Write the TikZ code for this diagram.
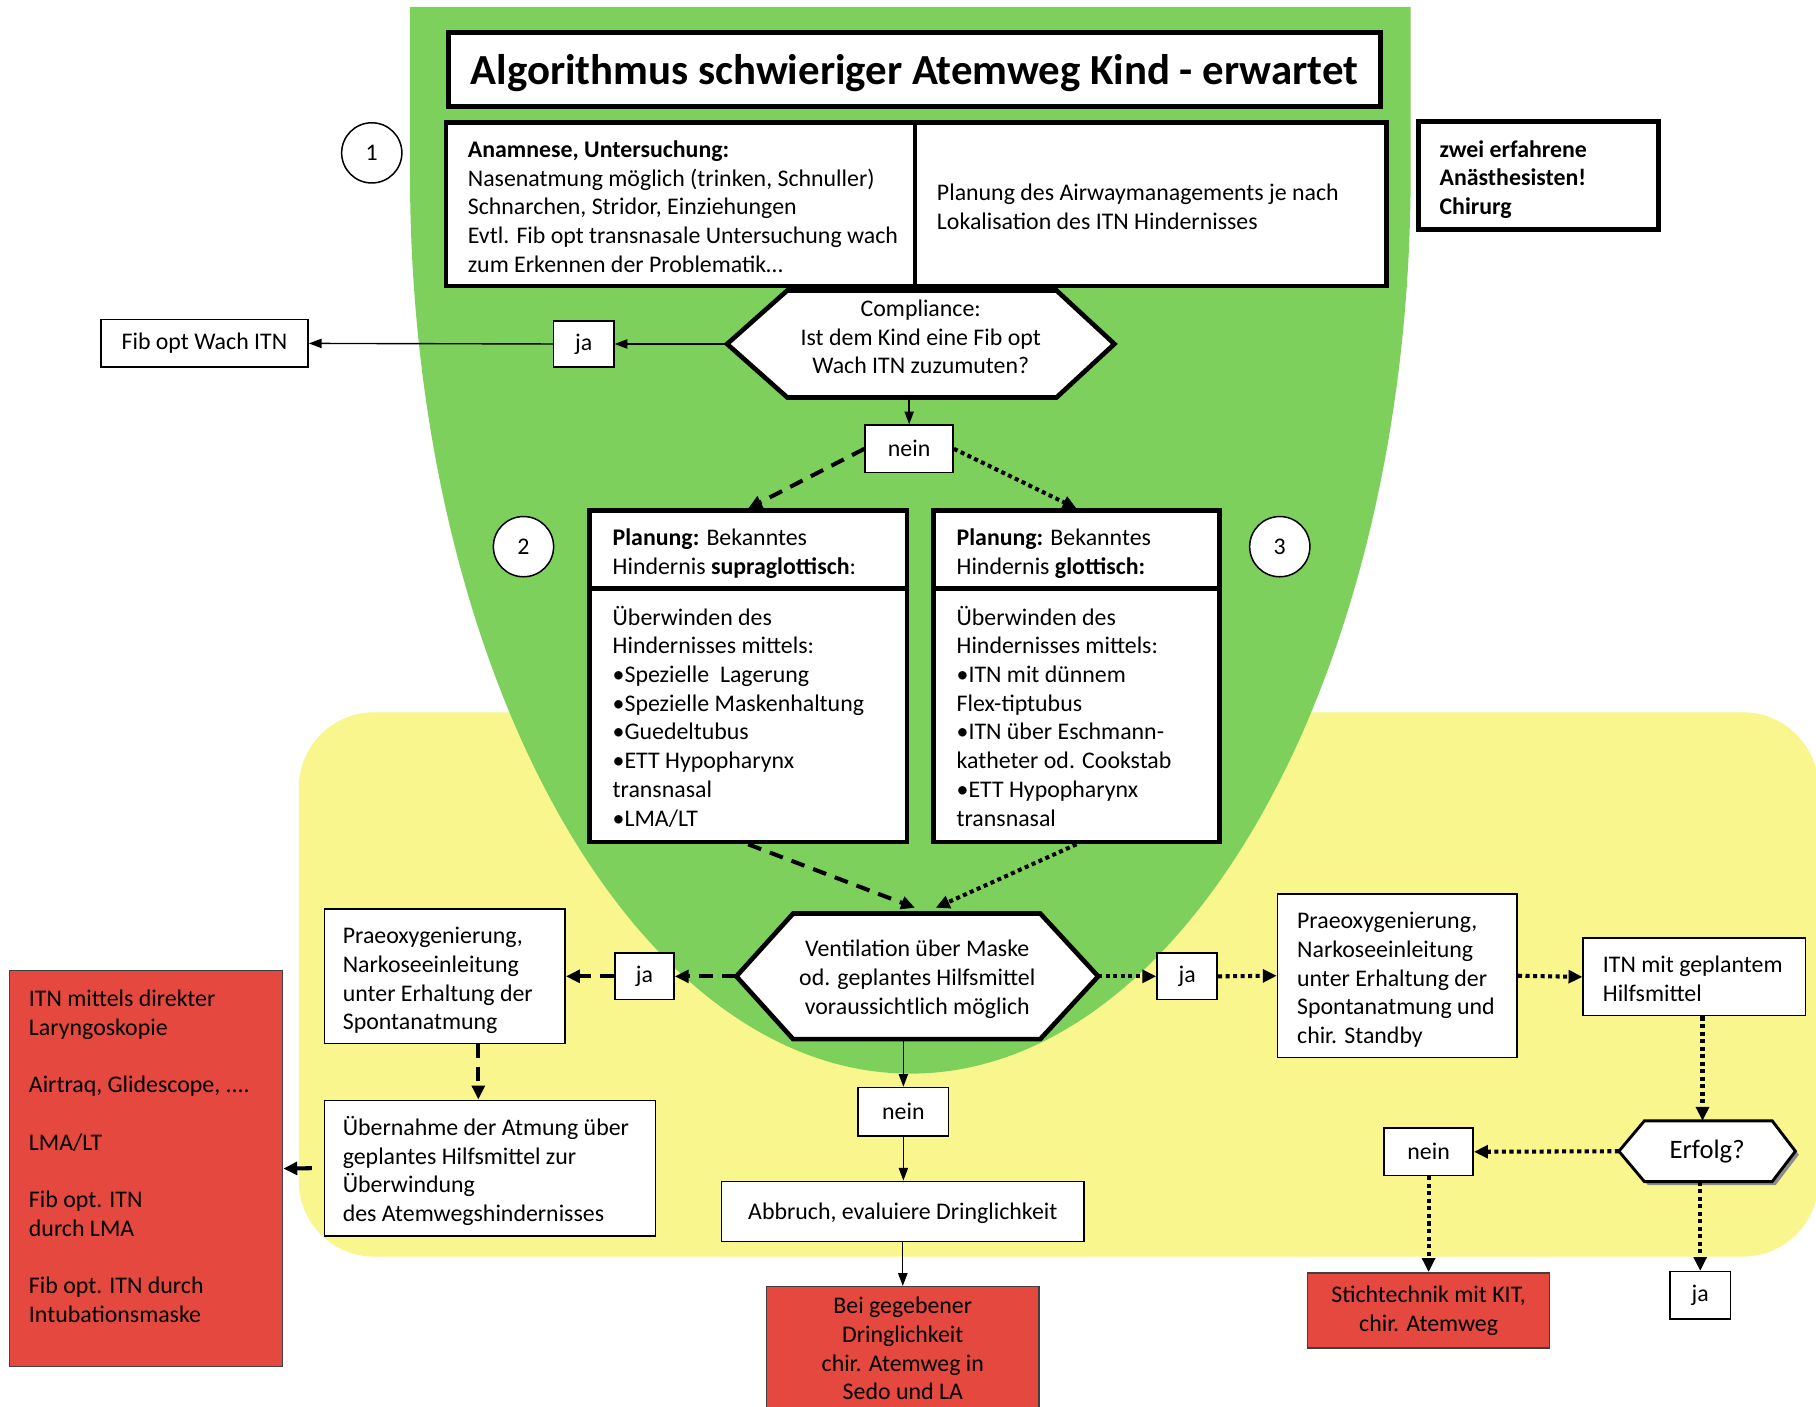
\documentclass[tikz,border=0pt]{standalone}
\usepackage{fontspec}
\setmainfont{Carlito}
\usetikzlibrary{arrows.meta,calc}
\definecolor{grn}{RGB}{126,208,92}
\definecolor{ylw}{RGB}{248,246,140}
\definecolor{rd}{RGB}{228,72,62}
\newcommand\bodyfont{\fontsize{20.6}{24.8}\selectfont}
\newcommand\lbox[3]{\makebox[#1pt][l]{\hspace*{#2pt}\raisebox{-4pt}[\height][\depth]{\begin{tabular}{@{}l@{}}#3\end{tabular}}}}
\newcommand\cbox[2]{\raisebox{#1pt}[\height][\depth]{\begin{tabular}{@{}c@{}}#2\end{tabular}}}
\pgfdeclarelayer{bg}
\pgfdeclarelayer{hex}
\pgfsetlayers{bg,hex,main}
\begin{document}
\begin{tikzpicture}[x=1pt,y=-1pt,
  thinbox/.style={draw, line width=1.3pt, fill=white, inner sep=0pt, font=\bodyfont},
  thickbox/.style={draw, line width=4pt, fill=white, inner sep=0pt, font=\bodyfont},
  redbox/.style={draw=black!75, line width=1.3pt, fill=rd, inner sep=0pt, font=\bodyfont},
  hexnode/.style={inner sep=0pt, font=\bodyfont, align=center},
  numc/.style={circle, draw, line width=1.3pt, fill=white, minimum size=52pt, inner sep=0pt, font=\bodyfont},
  conn/.style={line width=1.2pt, -{Triangle[length=11pt,width=8pt]}},
  dashconn/.style={line width=3.5pt, dash pattern=on 12pt off 8pt, -{Triangle[length=12pt,width=11pt]}},
  dotconn/.style={line width=3.5pt, dash pattern=on 3.5pt off 3pt, -{Triangle[length=12pt,width=11pt]}},
  hexline/.style={line width=4pt, fill=white, line join=miter}
]
\useasboundingbox (0,0) rectangle (1568,1214);

\begin{pgfonlayer}{bg}
\fill[ylw, rounded corners=65pt] (258,615) rectangle (1570,1085);
\fill[grn] (354,6) -- (354,150) arc[start angle=180, end angle=0, x radius=432, y radius=777] -- (1218,6) -- cycle;
\end{pgfonlayer}

% top
\node[thickbox, line width=4.5pt, minimum width=805pt, minimum height=64pt, font=\fontsize{37}{41}\selectfont\bfseries] (title) at (789.5,60) {\raisebox{-3pt}[\height][\depth]{Algorithmus schwieriger Atemweg Kind - erwartet}};
\node[thickbox, minimum width=405pt, minimum height=141pt] (anam) at (587.5,176.5) {\lbox{405}{19}{\textbf{Anamnese, Untersuchung:}\\Nasenatmung möglich (trinken, Schnuller)\\Schnarchen, Stridor, Einziehungen\\Evtl. Fib opt transnasale Untersuchung wach\\zum Erkennen der Problematik…}};
\node[thickbox, minimum width=407pt, minimum height=141pt] (plan) at (993.5,176.5) {\lbox{407}{19}{Planung des Airwaymanagements je nach\\Lokalisation des ITN Hindernisses}};
\node[thickbox, minimum width=207pt, minimum height=93pt] (zwei) at (1328.5,151.5) {\lbox{207}{18}{\textbf{zwei erfahrene}\\\textbf{Anästhesisten!}\\\textbf{Chirurg}}};
\node[numc] (c1) at (321,132) {1};

% compliance
\node[hexnode, minimum width=334pt, minimum height=92pt] (comp) at (795,297) {\cbox{4}{Compliance:\\Ist dem Kind eine Fib opt\\Wach ITN zuzumuten?}};
\begin{pgfonlayer}{hex}
\draw[hexline] (comp.west) -- ($(comp.north west)+(52,0)$) -- ($(comp.north east)+(-50,0)$) -- (comp.east) -- ($(comp.south east)+(-50,0)$) -- ($(comp.south west)+(52,0)$) -- cycle;
\end{pgfonlayer}
\node[thinbox, minimum width=52pt, minimum height=40pt] (ja1) at (504,297) {ja};
\node[thinbox, minimum width=179pt, minimum height=41pt] (fib) at (176.5,296.5) {Fib opt Wach ITN};
\node[thinbox, minimum width=76pt, minimum height=41pt] (nein1) at (785,387.5) {nein};

% planning boxes
\node[thickbox, minimum width=274pt, minimum height=67pt] (box2h) at (646,474.5) {\lbox{274}{20}{\textbf{Planung:} Bekanntes\\Hindernis \textbf{supraglottisch}:}};
\node[thickbox, minimum width=274pt, minimum height=219pt] (box2b) at (646,617.5) {\lbox{274}{20}{Überwinden des\\Hindernisses mittels:\\•Spezielle~~Lagerung\\•Spezielle Maskenhaltung\\•Guedeltubus\\•ETT Hypopharynx\\transnasal\\•LMA/LT}};
\node[thickbox, minimum width=247pt, minimum height=67pt] (box3h) at (929.5,474.5) {\lbox{247}{20}{\textbf{Planung:} Bekanntes\\Hindernis \textbf{glottisch:}}};
\node[thickbox, minimum width=247pt, minimum height=219pt] (box3b) at (929.5,617.5) {\lbox{247}{20}{Überwinden des\\Hindernisses mittels:\\•ITN mit dünnem\\Flex-tiptubus\\•ITN über Eschmann-\\katheter od. Cookstab\\•ETT Hypopharynx\\transnasal}};
\node[numc] (c2) at (452,472) {2};
\node[numc] (c3) at (1105,472) {3};

% ventilation
\node[hexnode, minimum width=312pt, minimum height=108pt] (vent) at (792,843) {\cbox{-3}{Ventilation über Maske\\od. geplantes Hilfsmittel\\voraussichtlich möglich}};
\begin{pgfonlayer}{hex}
\draw[hexline] (vent.west) -- ($(vent.north west)+(49,0)$) -- ($(vent.north east)+(-50,0)$) -- (vent.east) -- ($(vent.south east)+(-50,0)$) -- ($(vent.south west)+(49,0)$) -- cycle;
\end{pgfonlayer}

% left branch
\node[thinbox, minimum width=51pt, minimum height=40pt] (ja2) at (556.5,843) {ja};
\node[thinbox, minimum width=208pt, minimum height=116pt] (praeL) at (384,843) {\lbox{208}{16}{Praeoxygenierung,\\Narkoseeinleitung\\unter Erhaltung der\\Spontanatmung}};
\node[thinbox, minimum width=286pt, minimum height=117pt] (ueber) at (423,1008.5) {\lbox{286}{16}{Übernahme der Atmung über\\geplantes Hilfsmittel zur\\Überwindung\\des Atemwegshindernisses}};
\node[redbox, minimum width=236pt, minimum height=342pt] (redL) at (126,1009) {\lbox{236}{17}{ITN mittels direkter\\Laryngoskopie\\\mbox{}\\Airtraq, Glidescope, ....\\\mbox{}\\LMA/LT\\\mbox{}\\Fib opt. ITN\\durch LMA\\\mbox{}\\Fib opt. ITN durch\\Intubationsmaske\\\mbox{}}};

% middle branch
\node[thinbox, minimum width=78pt, minimum height=42pt] (nein2) at (780,960) {nein};
\node[thinbox, minimum width=313pt, minimum height=52pt] (abbr) at (779.5,1046) {\raisebox{-2pt}[\height][\depth]{Abbruch, evaluiere Dringlichkeit}};
\node[redbox, minimum width=235pt, minimum height=107pt, align=center] (redB) at (779.5,1164.5) {Bei gegebener\\Dringlichkeit\\chir. Atemweg in\\Sedo und LA};

% right branch
\node[thinbox, minimum width=52pt, minimum height=40pt] (ja3) at (1025,843) {ja};
\node[thinbox, minimum width=207pt, minimum height=141pt] (praeR) at (1206.5,842.5) {\lbox{207}{17}{Praeoxygenierung,\\Narkoseeinleitung\\unter Erhaltung der\\Spontanatmung und\\chir. Standby}};
\node[thinbox, minimum width=192pt, minimum height=67pt] (itn) at (1463,843.5) {\lbox{192}{17}{ITN mit geplantem\\Hilfsmittel}};
\node[hexnode, minimum width=152pt, minimum height=52pt, font=\fontsize{23}{27}\selectfont] (erf) at (1474,994) {Erfolg?};
\begin{pgfonlayer}{hex}
\fill[black!45] ($(erf.west)+(3,3)$) -- ($(erf.north west)+(25,3)$) -- ($(erf.north east)+(-17,3)$) -- ($(erf.east)+(3,3)$) -- ($(erf.south east)+(-17,3)$) -- ($(erf.south west)+(25,3)$) -- cycle;
\draw[line width=2.5pt, fill=white] (erf.west) -- ($(erf.north west)+(22,0)$) -- ($(erf.north east)+(-20,0)$) -- (erf.east) -- ($(erf.south east)+(-20,0)$) -- ($(erf.south west)+(22,0)$) -- cycle;
\end{pgfonlayer}
\node[thinbox, minimum width=77pt, minimum height=41pt] (neinR) at (1233.5,994.5) {nein};
\node[redbox, minimum width=209pt, minimum height=65pt, align=center] (sticht) at (1233.5,1131.5) {Stichtechnik mit KIT,\\chir. Atemweg};
\node[thinbox, minimum width=52pt, minimum height=41pt] (jaR) at (1468,1118.5) {ja};

% connectors
\draw[conn] (comp.west) -- (ja1.east);
\draw[conn] (ja1.west) -- (fib.east);
\draw[conn] (nein1.north |- comp.south) -- (nein1.north);
\draw[dashconn] (nein1.west) -- (box2h.north);
\draw[dotconn] (nein1.east) -- (box3h.north);
\draw[dashconn] (box2b.south) -- ($(vent.north)+(-2,-5)$);
\draw[dotconn] (box3b.south) -- ($(vent.north)+(16,-5)$);
\draw[dashconn] (vent.west) -- (ja2.east);
\draw[dashconn] (ja2.west) -- (praeL.east);
\draw[dashconn] ($(praeL.south)+(29,0)$) -- ($(ueber.north)+(-10,0)$);
\draw[line width=3.5pt, -{Triangle[length=12pt,width=11pt]}, shorten <=10pt] (ueber.west) -- (redL.east);
\draw[conn] (nein2.north |- vent.south) -- (nein2.north);
\draw[conn] (nein2.south) -- (nein2.south |- abbr.north);
\draw[conn] (abbr.south) -- (redB.north);
\draw[dotconn] (vent.east) -- (ja3.west);
\draw[dotconn] (ja3.east) -- (praeR.west);
\draw[dotconn] (praeR.east) -- (itn.west);
\draw[dotconn] ($(itn.south)+(7,0)$) -- ($(erf.north)+(-4,0)$);
\draw[dotconn] (erf.west) -- (neinR.east);
\draw[dotconn] (neinR.south) -- (sticht.north);
\draw[dotconn] (jaR.north |- erf.south) -- (jaR.north);
\end{tikzpicture}
\end{document}
